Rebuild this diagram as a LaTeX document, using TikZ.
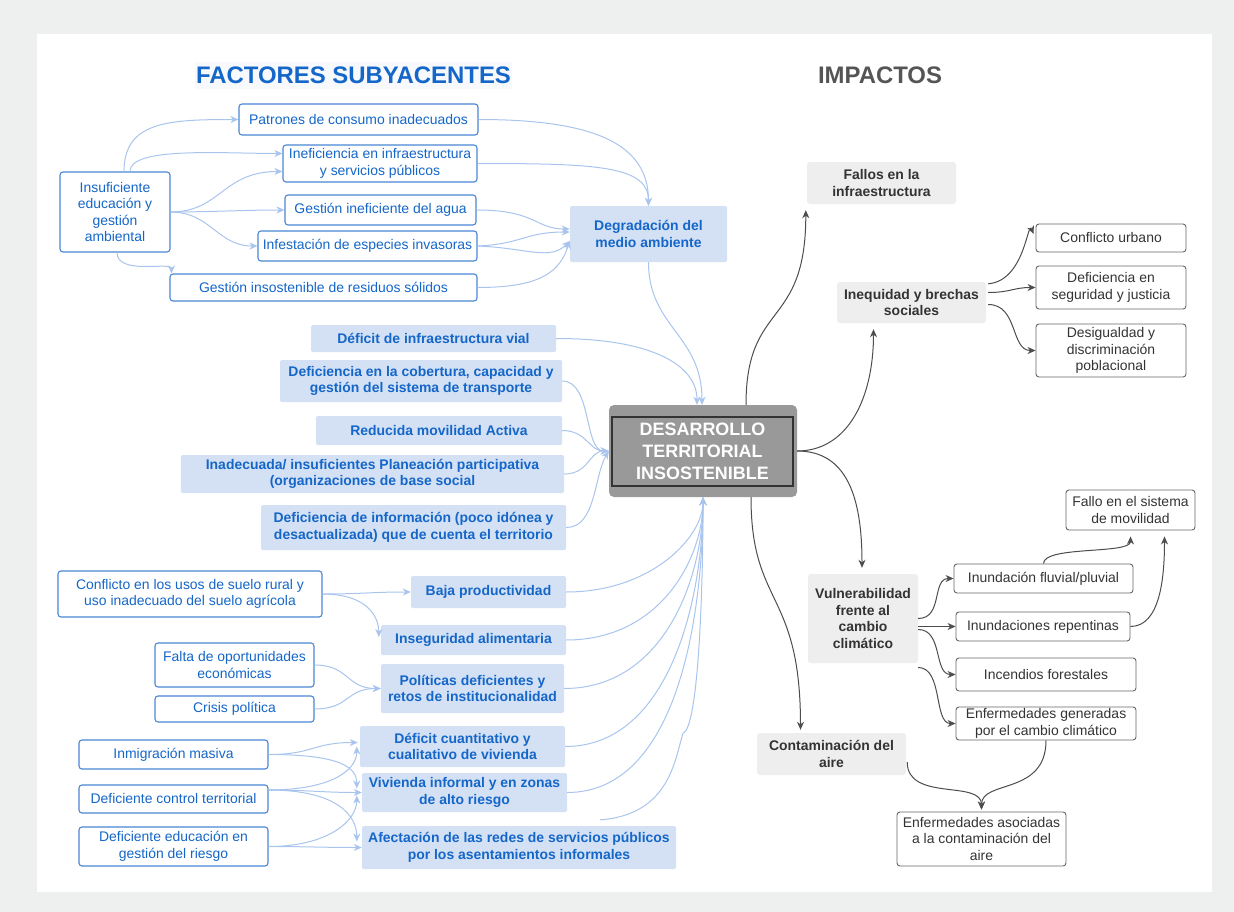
\documentclass[tikz,border=0pt]{standalone}
\usepackage{fontspec}
\setmainfont{Liberation Sans}
\usetikzlibrary{arrows.meta,calc}
\definecolor{bgGray}{HTML}{EEF0EF}
\definecolor{blueText}{HTML}{1466C8}
\definecolor{blueFill}{HTML}{D4E1F5}
\definecolor{blueBorder}{HTML}{4A86D4}
\definecolor{blueLine}{HTML}{A9C5EE}
\definecolor{grayFill}{HTML}{EEEEEE}
\definecolor{darkText}{HTML}{333333}
\definecolor{darkLine}{HTML}{4D4D4D}
\definecolor{rBorder}{HTML}{666666}
\definecolor{centerFill}{HTML}{999999}
\definecolor{titleBg}{HTML}{F7F9FC}
\definecolor{impText}{HTML}{555555}
\begin{document}
\begin{tikzpicture}[x=1bp,y=-1bp,
  every node/.style={inner sep=0pt, align=center, font=\fontsize{14}{16.5}\selectfont},
  wbox/.style={draw=blueBorder, line width=1.1bp, fill=white, rounded corners=3bp, text=blueText},
  bbox/.style={fill=blueFill, rounded corners=1.5bp, text=blueText, font=\fontsize{14}{16.5}\selectfont\bfseries},
  gbox/.style={fill=grayFill, rounded corners=3bp, text=darkText, font=\fontsize{14}{16.5}\selectfont\bfseries},
  rbox/.style={draw=rBorder, line width=0.9bp, fill=white, rounded corners=3bp, text=darkText},
  bl/.style={draw=blueLine, line width=1bp, -{Stealth[length=8bp,width=7bp,inset=2.5bp]}},
  dk/.style={draw=darkLine, line width=1bp, -{Stealth[length=8bp,width=7bp,inset=2.5bp]}}
]
\useasboundingbox (0,0) rectangle (1234,912);
\fill[bgGray] (0,0) rectangle (1234,912);
\fill[white] (37,34) rectangle (1212,892);

% titles
\node[fill=titleBg, minimum width=317bp, minimum height=27bp, text=blueText, font=\fontsize{24}{26}\selectfont\bfseries] (tfact) at (353.5,75.5) {FACTORES SUBYACENTES};
\node[text=impText, font=\fontsize{24}{26}\selectfont\bfseries] (timp) at (880,75.5) {IMPACTOS};

% top left
\node[wbox, minimum width=110bp, minimum height=80bp] (ins) at (115,212) {Insuficiente\\educación y\\gestión\\ambiental};
\node[wbox, minimum width=239bp, minimum height=31bp] (pat) at (358.5,119.5) {Patrones de consumo inadecuados};
\node[wbox, minimum width=194bp, minimum height=37bp] (inef) at (380,163.5) {Ineficiencia en infraestructura\\y servicios públicos};
\node[wbox, minimum width=191bp, minimum height=30bp] (agua) at (380.5,210) {Gestión ineficiente del agua};
\node[wbox, minimum width=219bp, minimum height=30bp] (inf) at (367.5,246) {Infestación de especies invasoras};
\node[wbox, minimum width=307bp, minimum height=27bp] (res) at (323.5,287.5) {Gestión insostenible de residuos sólidos};
\node[bbox, minimum width=157bp, minimum height=56bp] (deg) at (648.5,234) {Degradación del\\medio ambiente};

% middle
\node[bbox, minimum width=245bp, minimum height=27bp] (vial) at (433.5,338.5) {Déficit de infraestructura vial};
\node[bbox, minimum width=282bp, minimum height=42bp] (transp) at (421,381) {Deficiencia en la cobertura, capacidad y\\gestión del sistema de transporte};
\node[bbox, minimum width=246bp, minimum height=29bp] (movil) at (439,430.5) {Reducida movilidad Activa};
\node[bbox, minimum width=383bp, minimum height=38bp] (plan) at (372.5,474) {Inadecuada/ insuficientes Planeación participativa\\(organizaciones de base social};
\node[bbox, minimum width=305bp, minimum height=45bp] (info) at (413.5,527.5) {Deficiencia de información (poco idónea y\\desactualizada) que de cuenta el territorio};

% center
\node[fill=centerFill, rounded corners=5bp, minimum width=188bp, minimum height=92bp] (des) at (703,451) {};
\node[draw=darkText, line width=1.2bp, fill=centerFill, minimum width=181bp, minimum height=69bp, text=white, font=\fontsize{18}{22}\selectfont\bfseries] (desin) at (702.5,451.5) {DESARROLLO\\TERRITORIAL\\INSOSTENIBLE};

% lower left
\node[wbox, minimum width=264bp, minimum height=46bp] (confl) at (190,594) {Conflicto en los usos de suelo rural y\\uso inadecuado del suelo agrícola};
\node[bbox, minimum width=155bp, minimum height=32bp] (baja) at (488.5,592) {Baja productividad};
\node[bbox, minimum width=185bp, minimum height=30bp] (inseg) at (473.5,640) {Inseguridad alimentaria};
\node[wbox, minimum width=159bp, minimum height=44bp] (falta) at (234.5,665) {Falta de oportunidades\\económicas};
\node[wbox, minimum width=159bp, minimum height=26bp] (crisis) at (234.5,709) {Crisis política};
\node[bbox, minimum width=183bp, minimum height=49bp] (polit) at (472.5,688.5) {Políticas deficientes y\\retos de institucionalidad};
\node[wbox, minimum width=189bp, minimum height=29bp] (inmig) at (173.5,754.5) {Inmigración masiva};
\node[wbox, minimum width=189bp, minimum height=28bp] (control) at (173.5,799) {Deficiente control territorial};
\node[wbox, minimum width=189bp, minimum height=39bp] (educ) at (173.5,846.5) {Deficiente educación en\\gestión del riesgo};
\node[bbox, minimum width=205bp, minimum height=41bp] (cuant) at (462.5,746.5) {Déficit cuantitativo y\\cualitativo de vivienda};
\node[bbox, minimum width=205bp, minimum height=39bp] (vivinf) at (464.5,792.5) {Vivienda informal y en zonas\\de alto riesgo};
\node[bbox, minimum width=314bp, minimum height=43bp] (afect) at (519,847.5) {Afectación de las redes de servicios públicos\\por los asentamientos informales};

% right gray
\node[gbox, minimum width=149bp, minimum height=42bp] (fallos) at (881.5,183) {Fallos en la\\infraestructura};
\node[gbox, minimum width=149bp, minimum height=41bp] (ineq) at (911.5,302.5) {Inequidad y brechas\\sociales};
\node[gbox, minimum width=110bp, minimum height=89bp] (vuln) at (863,618.5) {Vulnerabilidad\\frente al\\cambio\\climático};
\node[gbox, minimum width=149bp, minimum height=42bp] (contam) at (831.5,754) {Contaminación del\\aire};

% right white
\node[rbox, minimum width=150bp, minimum height=28bp] (curb) at (1111,238) {Conflicto urbano};
\node[rbox, minimum width=150bp, minimum height=43bp] (segur) at (1111,287.5) {Deficiencia en\\seguridad y justicia};
\node[rbox, minimum width=150bp, minimum height=53bp] (desig) at (1111,350.5) {Desigualdad y\\discriminación\\poblacional};
\node[rbox, minimum width=129bp, minimum height=40bp] (fmov) at (1130.5,510) {Fallo en el sistema\\de movilidad};
\node[rbox, minimum width=179bp, minimum height=29bp] (fluv) at (1043.5,578.5) {Inundación fluvial/pluvial};
\node[rbox, minimum width=174bp, minimum height=29bp] (repent) at (1043,626.5) {Inundaciones repentinas};
\node[rbox, minimum width=180bp, minimum height=33bp] (incend) at (1046,674.5) {Incendios forestales};
\node[rbox, minimum width=180bp, minimum height=33bp] (enfgen) at (1046,723.5) {Enfermedades generadas\\por el cambio climático};
\node[rbox, minimum width=169bp, minimum height=54bp] (enfaire) at (981.5,839) {Enfermedades asociadas\\a la contaminación del\\aire};

% ---- blue connectors, top
\draw[bl] ($(ins.north)+(9,0)$) .. controls +(0,-50) and +(-70,0) .. (pat.west);
\draw[bl] ($(ins.north)+(15,0)$) .. controls +(0,-25) and +(-60,0) .. ($(inef.west)+(0,-10)$);
\draw[bl] (ins.east) .. controls +(50,0) and +(-60,0) .. ($(inef.west)+(0,8)$);
\draw[bl] (ins.east) .. controls +(40,0) and +(-40,0) .. (agua.west);
\draw[bl] (ins.east) .. controls +(40,0) and +(-40,0) .. (inf.west);
\draw[bl] ($(ins.south)+(2,0)$) .. controls +(0,23) and +(0,-12) .. ($(res.north west)+(2,0)$);
\draw[bl] (pat.east) .. controls +(120,0) and +(0,-60) .. (deg.north);
\draw[bl] (inef.east) .. controls +(120,0) and +(0,-40) .. (deg.north);
\draw[bl] (agua.east) .. controls +(60,0) and +(-35,0) .. ($(deg.west)+(0,-5)$);
\draw[bl] (inf.east) .. controls +(45,-2) and +(-45,0) .. ($(deg.west)+(0,-2)$);
\draw[bl] (inf.east) .. controls +(50,2) and +(-20,20) .. ($(deg.west)+(0,7)$);
\draw[bl] (res.east) .. controls +(65,0) and +(-10,30) .. ($(deg.west)+(0,7)$);
\draw[bl] (deg.south) .. controls +(0,65) and +(0,-70) .. ($(des.north)+(-1,0)$);
\draw[bl] (vial.east) .. controls +(95,0) and +(0,-40) .. ($(des.north)+(-6,0)$);

% ---- blue connectors, middle
\draw[bl] (transp.east) .. controls +(30,0) and +(-25,0) .. (des.west);
\draw[bl] (movil.east) .. controls +(25,0) and +(-20,0) .. (des.west);
\draw[bl] (plan.east) .. controls +(25,0) and +(-20,0) .. (des.west);
\draw[bl] (info.east) .. controls +(30,0) and +(-15,25) .. (des.west);

% ---- blue connectors, lower to center
\draw[bl] (baja.east) .. controls +(85,0) and +(0,40) .. (des.south);
\draw[bl] (inseg.east) .. controls +(95,0) and +(0,60) .. (des.south);
\draw[bl] (polit.east) .. controls +(100,0) and +(0,80) .. (des.south);
\draw[bl] (cuant.east) .. controls +(105,0) and +(0,100) .. (des.south);
\draw[bl] (vivinf.east) .. controls +(110,0) and +(0,120) .. (des.south);
\draw[bl] ($(afect.north east)+(-76,-6)$) .. controls +(70,-5) and +(-8,25) .. ($(des.south)+(-20,236)$) .. controls +(15,-5) and +(0,100) .. (des.south);

% ---- blue connectors, lower left
\draw[bl] (confl.east) .. controls +(40,0) and +(-40,0) .. (baja.west);
\draw[bl] (confl.east) .. controls +(45,0) and +(0,-20) .. ($(inseg.west)+(-2,-3)$);
\draw[bl] (falta.east) .. controls +(35,0) and +(-35,0) .. (polit.west);
\draw[bl] (crisis.east) .. controls +(35,0) and +(-35,0) .. (polit.west);
\draw[bl] (inmig.east) .. controls +(45,0) and +(-45,0) .. ($(cuant.west)+(-2,-4)$);
\draw[bl] (inmig.east) .. controls +(75,0) and +(0,-20) .. ($(vivinf.west)+(-5,-4)$);
\draw[bl] ($(control.east)+(0,-9)$) .. controls +(60,0) and +(0,25) .. ($(cuant.west)+(-3,0)$);
\draw[bl] ($(control.east)+(0,-9)$) .. controls +(40,0) and +(-40,0) .. (vivinf.west);
\draw[bl] ($(control.east)+(0,-9)$) .. controls +(70,0) and +(0,-25) .. ($(afect.west)+(-5,-6)$);
\draw[bl] (educ.east) .. controls +(60,0) and +(0,25) .. ($(vivinf.west)+(-5,3)$);
\draw[bl] (educ.east) .. controls +(40,0) and +(-40,0) .. (afect.west);

% ---- dark connectors
\draw[dk] ($(des.north)+(43,0)$) .. controls +(0,-105) and +(0,120) .. ($(fallos.south west)+(-1,6)$);
\draw[dk] (des.east) .. controls +(50,0) and +(0,70) .. ($(ineq.south)+(-38,6)$);
\draw[dk] (des.east) .. controls +(50,0) and +(0,-70) .. ($(vuln.north)+(-1,-6)$);
\draw[dk] ($(des.south)+(48,0)$) .. controls +(0,110) and +(0,-140) .. ($(contam.north)+(-31,-3)$);
\draw[dk] ($(ineq.north east)+(2,2)$) .. controls +(37,-3) and +(-6,-15) .. ($(curb.west)+(-2,-4)$);
\draw[dk] ($(ineq.east)+(2,-10)$) .. controls +(22,0) and +(-22,0) .. (segur.west);
\draw[dk] ($(ineq.east)+(2,2)$) .. controls +(30,0) and +(-25,0) .. (desig.west);
\draw[dk] (vuln.east) .. controls +(25,0) and +(-22,0) .. (fluv.west);
\draw[dk] ($(vuln.east)+(0,8)$) -- (repent.west);
\draw[dk] ($(vuln.east)+(0,11)$) .. controls +(25,0) and +(-22,0) .. (incend.west);
\draw[dk] ($(vuln.east)+(0,49)$) .. controls +(25,0) and +(-22,0) .. (enfgen.west);
\draw[dk] (fluv.north) .. controls +(0,-18) and +(0,18) .. ($(fmov.south)+(0,6)$);
\draw[dk] (repent.east) .. controls +(30,0) and +(0,40) .. ($(fmov.south)+(34,6)$);
\draw[dk] ($(contam.east)+(1,8)$) .. controls +(0,40) and +(0,-30) .. ($(enfaire.north)+(0,-2)$);
\draw[dk] (enfgen.south) .. controls +(0,55) and +(0,-30) .. ($(enfaire.north)+(0,-2)$);
\end{tikzpicture}
\end{document}
